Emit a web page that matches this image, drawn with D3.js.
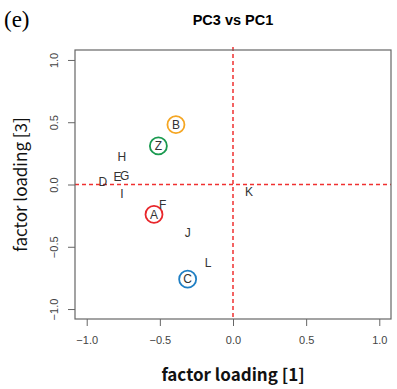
<!DOCTYPE html>
<html>
<head>
<meta charset="utf-8">
<script src="https://cdn.jsdelivr.net/npm/d3@7"></script>
<style>
  body { margin: 0; background: #fff; }
</style>
</head>
<body>
<div id="chart"></div>
<script>
// factor loadings
const labels = ['B', 'Z', 'H', 'E', 'G', 'D', 'I', 'K', 'F', 'A', 'J', 'L', 'C'];
const pc1 = [-0.39, -0.51, -0.76, -0.79, -0.74, -0.89, -0.76, 0.11, -0.48, -0.54, -0.31, -0.17, -0.31];
const pc3 = [0.48, 0.31, 0.22, 0.06, 0.07, 0.02, -0.07, -0.06, -0.16, -0.24, -0.39, -0.63, -0.76];
const circled = { B: '#f5a623', Z: '#1a9a50', A: '#e8262b', C: '#1f7fc4' };
const ticks = [-1.0, -0.5, 0.0, 0.5, 1.0];

const W = 397, H = 389;
const margin = { top: 50, right: 6, bottom: 70, left: 75 };
const width = W - margin.left - margin.right,
      height = H - margin.top - margin.bottom;

const svg = d3.select('#chart').append('svg')
    .attr('width', W)
    .attr('height', H);

const x = d3.scaleLinear().domain([-1.08, 1.08]).range([0, width]);
const y = d3.scaleLinear().domain([-1.08, 1.08]).range([height, 0]);

const g = svg.append('g')
    .attr('transform', 'translate(' + margin.left + ',' + margin.top + ')');

// axes
const xAxis = g.append('g')
    .attr('transform', 'translate(0,' + height + ')')
    .call(d3.axisBottom(x).tickValues(ticks).tickFormat(d3.format('.1f')).tickSizeOuter(0).tickSize(7).tickPadding(10));
const yAxis = g.append('g')
    .call(d3.axisLeft(y).tickValues(ticks).tickFormat(d3.format('.1f')).tickSizeOuter(0).tickSize(7).tickPadding(6));
[xAxis, yAxis].forEach(a => {
    a.select('.domain').remove();
    a.selectAll('.tick line').attr('stroke', '#666');
    a.selectAll('.tick text').attr('fill', '#444').style('font-family', 'Arial, "Liberation Sans", sans-serif').style('font-size', '11px');
});
yAxis.selectAll('.tick text')
    .attr('text-anchor', 'middle')
    .attr('transform', 'rotate(-90)')
    .attr('x', 0).attr('dy', 0)
    .attr('y', -17);
xAxis.selectAll('.tick text').attr('dy', '0.71em');

// reference lines
g.append('line')
    .attr('x1', 0).attr('x2', width)
    .attr('y1', y(0)).attr('y2', y(0))
    .attr('stroke', '#f03030').attr('stroke-width', 1.5).attr('stroke-dasharray', '4,3');
g.append('line')
    .attr('x1', x(0)).attr('x2', x(0))
    .attr('y1', -3).attr('y2', height)
    .attr('stroke', '#f03030').attr('stroke-width', 1.5).attr('stroke-dasharray', '4,3');

// box
g.append('rect')
    .attr('width', width).attr('height', height)
    .attr('fill', 'none').attr('stroke', '#666').attr('stroke-width', 1.2);

// points
const pts = labels.map((l, i) => ({ label: l, x: pc1[i], y: pc3[i] }));
g.selectAll('.ring')
    .data(pts.filter(d => circled[d.label]))
    .enter().append('circle')
    .attr('class', 'ring')
    .attr('cx', d => x(d.x)).attr('cy', d => y(d.y))
    .attr('r', 8.5)
    .attr('fill', 'none')
    .attr('stroke', d => circled[d.label])
    .attr('stroke-width', 1.8);
g.selectAll('.lab')
    .data(pts)
    .enter().append('text')
    .attr('class', 'lab')
    .attr('x', d => x(d.x)).attr('y', d => y(d.y))
    .attr('text-anchor', 'middle')
    .attr('dy', '0.36em')
    .attr('fill', '#333')
    .style('font-family', 'Arial, "Liberation Sans", sans-serif')
    .style('font-size', '12px')
    .text(d => d.label);

// titles
svg.append('text')
    .attr('x', 4).attr('y', 27)
    .style('font-family', '"Liberation Serif", "DejaVu Serif", serif')
    .style('font-size', '23px')
    .text('(e)');
svg.append('text')
    .attr('x', margin.left + x(0)).attr('y', 25)
    .attr('text-anchor', 'middle')
    .style('font-family', 'Arial, "Liberation Sans", sans-serif')
    .style('font-weight', 'bold')
    .style('font-size', '14.5px')
    .text('PC3 vs PC1');
svg.append('text')
    .attr('x', margin.left + x(0)).attr('y', 381)
    .attr('text-anchor', 'middle')
    .style('font-family', '"Noto Sans CJK JP", sans-serif')
    .style('font-weight', 'bold')
    .style('font-size', '17px')
    .attr('fill', '#111')
    .text('factor loading [1]');
svg.append('text')
    .attr('transform', 'translate(27,' + (margin.top + y(0)) + ') rotate(-90)')
    .attr('text-anchor', 'middle')
    .style('font-family', '"Noto Sans CJK JP", sans-serif')
    .style('font-size', '17px')
    .attr('fill', '#111')
    .text('factor loading [3]');
</script>
</body>
</html>
